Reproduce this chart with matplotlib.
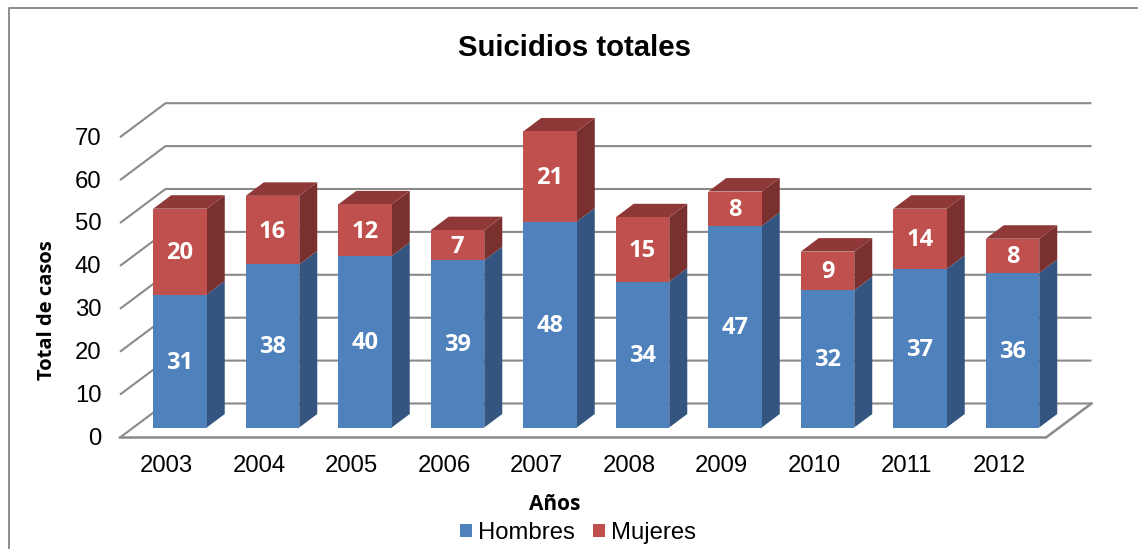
""" Suicidios totales, stacked pseudo-3D columns
"""

import matplotlib
matplotlib.use('Agg')
import matplotlib.pyplot as plt
import numpy as np
from matplotlib.patches import Polygon

years = ['2003', '2004', '2005', '2006', '2007',
         '2008', '2009', '2010', '2011', '2012']
hombres = [31, 38, 40, 39, 48, 34, 47, 32, 37, 36]
mujeres = [20, 16, 12, 7, 21, 15, 8, 9, 14, 8]
y_ticks = [0, 10, 20, 30, 40, 50, 60, 70]

W, H = 1138, 549
PX_CAT = 92.5    # pixels per category
PX_VAL = 4.29    # pixels per case
BASE_X = 180.0   # pixel of first bar centre
BASE_Y = 427.5   # pixel of bar base

BLUE, BLUE_SIDE = '#4F81BD', '#33557F'
RED, RED_TOP, RED_SIDE = '#C0504D', '#8E3937', '#7A302E'
GRID = '#8A8A8A'
LABEL_FONT = 'Open Sans'

plt.rcParams['font.family'] = ['Liberation Sans', 'DejaVu Sans']

fig = plt.figure(figsize=(W / 100, H / 100), dpi=100)
ax = fig.add_axes([0, 0, 1, 1])
ax.set_xlim(-BASE_X / PX_CAT, (W - BASE_X) / PX_CAT)
ax.set_ylim((BASE_Y - H) / PX_VAL, BASE_Y / PX_VAL)
ax.axis('off')

# bar depth and floor depth, in data units
bar_dx, bar_dy = 18 / PX_CAT, 13.5 / PX_VAL
floor_dx, floor_dy = 45.5 / PX_CAT, 34 / PX_VAL
front_x0 = (120 - BASE_X) / PX_CAT
front_x1 = (1046 - BASE_X) / PX_CAT
front_dy = -10 / PX_VAL  # front edge of floor sits below bar base
back_dy = front_dy + floor_dy

# outer chart frame, open to the right and bottom
ax.plot([8.5 / W, 8.5 / W, 1], [0, 1 - 7.5 / H, 1 - 7.5 / H],
        transform=ax.transAxes, color='#8C8C8C', lw=1.4, zorder=1)

# gridlines: diagonal on the left wall and long line at the back
for v in y_ticks:
    ax.plot([front_x0, front_x0 + floor_dx, front_x1 + floor_dx],
            [v + front_dy, v + back_dy, v + back_dy],
            color=GRID, lw=1.5, zorder=1, solid_capstyle='butt')
    ax.text(-0.85, v + front_dy - 1.5 / PX_VAL, str(v), ha='right',
            va='center', fontsize=17.2, color='black')

# floor
ax.plot([front_x0, front_x1, front_x1 + floor_dx],
        [front_dy, front_dy, back_dy],
        color=GRID, lw=1.8, zorder=1, solid_joinstyle='miter')

ind = np.arange(len(years))
width = 53.5 / PX_CAT
h = np.array(hombres)
m = np.array(mujeres)

b1 = ax.bar(ind, h, width, color=BLUE, zorder=3, label='Hombres')
b2 = ax.bar(ind, m, width, bottom=h, color=RED, zorder=3, label='Mujeres')

nudge = 1.5 / PX_VAL  # text sits a little low in the segment
for i in ind:
    xr = i + width / 2.0
    xl = i - width / 2.0
    top = h[i] + m[i]
    ax.add_patch(Polygon([(xr, 0), (xr + bar_dx, bar_dy),
                          (xr + bar_dx, h[i] + bar_dy), (xr, h[i])],
                         facecolor=BLUE_SIDE, edgecolor='none', zorder=2))
    ax.add_patch(Polygon([(xr, h[i]), (xr + bar_dx, h[i] + bar_dy),
                          (xr + bar_dx, top + bar_dy), (xr, top)],
                         facecolor=RED_SIDE, edgecolor='none', zorder=2))
    ax.add_patch(Polygon([(xl, top), (xr, top),
                          (xr + bar_dx, top + bar_dy),
                          (xl + bar_dx, top + bar_dy)],
                         facecolor=RED_TOP, edgecolor='none', zorder=2))
    ax.text(i, h[i] / 2.0 - nudge, str(h[i]), ha='center', va='center',
            color='white', family=LABEL_FONT, weight='bold', fontsize=17,
            zorder=4)
    ax.text(i, h[i] + m[i] / 2.0 - nudge, str(m[i]), ha='center', va='center',
            color='white', family=LABEL_FONT, weight='bold', fontsize=17,
            zorder=4)
    # category labels line up with the front edge of the floor
    ax.text(i - 13.5 / PX_CAT, (BASE_Y - 466.5) / PX_VAL, years[i],
            ha='center', va='center', fontsize=17.2, color='black')

fig.text(575 / W, 1 - 47.5 / H, 'Suicidios totales', ha='center', va='center',
         fontsize=21.2, weight='bold')
fig.text(555 / W, 1 - 505 / H, 'Años', ha='center', va='center',
         family=LABEL_FONT, weight='bold', fontsize=15)
fig.text(47 / W, 1 - 310 / H, 'Total de casos', ha='center', va='center',
         rotation=90, family=LABEL_FONT, weight='bold', fontsize=14.5)

ax.legend(handles=[b1, b2], loc='center', ncol=2, frameon=False,
          bbox_to_anchor=(578 / W, 1 - 533 / H), fontsize=17.2,
          handlelength=0.5, handleheight=0.5, handletextpad=0.25,
          columnspacing=0.8, borderpad=0, borderaxespad=0)

fig.savefig('out.png', dpi=100)
